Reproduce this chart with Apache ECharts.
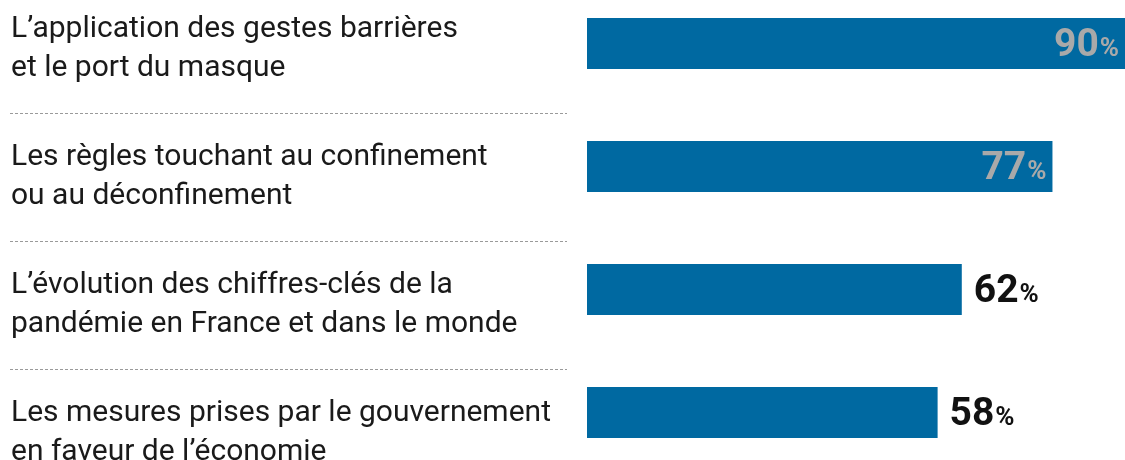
<!DOCTYPE html>
<html>
<head>
<meta charset="utf-8">
<script src="https://cdn.jsdelivr.net/npm/echarts@6/dist/echarts.min.js"></script>
<style>
  html, body { margin: 0; padding: 0; background: #fff; overflow: hidden; }
  /* taller than the window so the outer rows can sit partly off-screen */
  #main { width: 1125px; height: 560px; margin-top: -50px; }
</style>
</head>
<body>
<div id="main"></div>
<script>
const categories = [
  "L’application des gestes barrières\net le port du masque",
  "Les règles touchant au confinement\nou au déconfinement",
  "L’évolution des chiffres-clés de la\npandémie en France et dans le monde",
  "Les mesures prises par le gouvernement\nen faveur de l’économie"
];
const values = [90, 77, 62, 58];

const barColor = "#0069a1";
const insideColor = "#a9a9a9";
const shift = 50; // matches the negative margin of #main

const chart = echarts.init(document.getElementById("main"));

const barData = values.map(function (v) {
  const inside = v >= 70;
  const c = inside ? insideColor : "#111";
  return {
    value: v,
    label: {
      position: inside ? "insideRight" : "right",
      distance: inside ? 6 : 12,
      rich: {
        n: { fontSize: 39, fontWeight: "bold", color: c, fontFamily: "Roboto", verticalAlign: "bottom", lineHeight: 44 },
        p: { fontSize: 26, fontWeight: "bold", color: c, fontFamily: "Roboto", verticalAlign: "bottom", lineHeight: 44, padding: [0, 0, 3, 1] }
      }
    }
  };
});

const option = {
  animation: false,
  grid: [
    { left: 587, right: 0, top: shift - 18, height: 492 },
    { left: 10, width: 557, top: shift - 15, height: 512 }
  ],
  xAxis: [
    { gridIndex: 0, type: "value", min: 0, max: 89, show: false },
    { gridIndex: 1, type: "value", min: 0, max: 1, show: false }
  ],
  yAxis: [
    { gridIndex: 0, type: "category", data: categories, inverse: true, show: false },
    {
      gridIndex: 1,
      type: "category",
      data: categories,
      inverse: true,
      axisLine: { show: false },
      axisTick: { show: false, interval: 0 },
      axisLabel: {
        inside: true,
        interval: 0,
        margin: 1,
        fontSize: 30,
        lineHeight: 39,
        color: "#1a1a1a",
        fontFamily: "Roboto"
      },
      splitLine: {
        show: true,
        interval: 0,
        lineStyle: { color: "#9a9a9a", width: 1, type: [3, 2] }
      }
    }
  ],
  series: [
    {
      type: "bar",
      xAxisIndex: 0,
      yAxisIndex: 0,
      data: barData,
      barWidth: 51,
      itemStyle: { color: barColor },
      label: {
        show: true,
        formatter: function (p) {
          return "{n|" + p.value + "}{p|%}";
        }
      }
    }
  ]
};

chart.setOption(option);
</script>
</body>
</html>
